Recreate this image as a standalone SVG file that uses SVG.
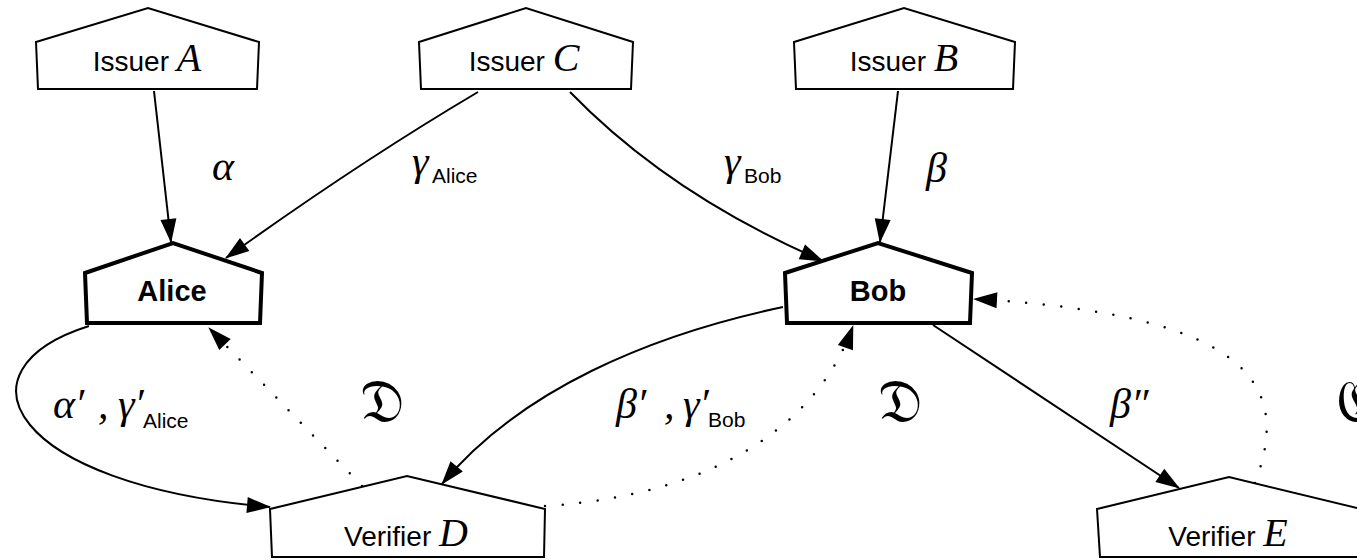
<svg xmlns="http://www.w3.org/2000/svg" width="1357" height="560" viewBox="0 0 1357 560">
  <style>
    .node { fill: #fff; stroke: #000; stroke-width: 2; stroke-linejoin: miter; }
    .party { fill: #fff; stroke: #000; stroke-width: 4; stroke-linejoin: miter; }
    .lbl { font-family: "Liberation Sans", Arial, sans-serif; font-size: 28px; fill: #000; }
    .bold { font-weight: bold; font-size: 29px; }
    .m { font-family: "Liberation Serif", "DejaVu Serif", serif; font-style: italic; font-size: 40px; fill: #000; }
    .g { font-size: 42px; }
    .sub { font-family: "Liberation Sans", Arial, sans-serif; font-style: normal; font-size: 21px; fill: #000; }
    .frak { font-family: "DejaVu Serif", "DejaVu Sans", serif; font-size: 60px; fill: #000; }
    .edge { fill: none; stroke: #000; stroke-width: 2; marker-end: url(#tip); }
    .dot { fill: none; stroke: #000; stroke-width: 2.5; stroke-linecap: round; stroke-dasharray: 0 17.6; marker-end: url(#tip); }
  </style>
  <defs>
    <marker id="tip" markerUnits="userSpaceOnUse" markerWidth="24" markerHeight="16" refX="23" refY="8" orient="auto" overflow="visible">
      <path d="M0,0 L24,8 L0,16 Z" fill="#000"/>
    </marker>
  </defs>
  <rect width="1357" height="560" fill="#fff"/>

  <!-- connectors -->
  <g id="connectors">
    <path class="edge" d="M154 91 L171 242"/>
    <path class="edge" d="M478 92 Q358 163 226 258"/>
    <path class="edge" d="M570 92 Q670 195 823 261"/>
    <path class="edge" d="M898 91 L880 242"/>
    <path class="edge" d="M89 326 C-50 370 10 485 270 507"/>
    <path class="dot" d="M362 486 L209 328"/>
    <path class="edge" d="M783 307 C650 335 520 390 442 484"/>
    <path class="dot" d="M545 506 C720 495 820 420 853 326"/>
    <path class="edge" d="M933 325 L1179 488"/>
    <path class="dot" d="M1255 483 C1290 390 1260 315 974 299"/>
  </g>

  <!-- edge labels -->
  <g id="edge-labels">
    <text class="m g" x="212" y="180">α</text>
    <text class="m g" x="412" y="175">γ</text><text class="sub" x="432" y="183">Alice</text>
    <text class="m g" x="724" y="175">γ</text><text class="sub" x="744" y="183">Bob</text>
    <text class="m g" x="926" y="182">β</text>
    <text class="m g" x="53" y="418">α′</text><text class="m g" x="98" y="418">,</text>
    <text class="m g" x="118" y="418">γ′</text><text class="sub" x="143" y="428">Alice</text>
    <text class="m g" x="616" y="418">β′</text><text class="m g" x="664" y="418">,</text>
    <text class="m g" x="683" y="418">γ′</text><text class="sub" x="708" y="427">Bob</text>
    <text class="m g" x="1110" y="418">β″</text>
    <text class="frak" x="360" y="422">𝔇</text>
    <text class="frak" x="878" y="422">𝔇</text>
    <text class="frak" x="1336" y="422">𝔈</text>
  </g>

  <!-- nodes -->
  <g id="issuer-a">
    <path class="node" d="M36 42 L148 8 L259 42 L257 89 L38 89 Z"/>
    <text class="lbl" x="147" y="71" text-anchor="middle">Issuer <tspan class="m">A</tspan></text>
  </g>
  <g id="issuer-c">
    <path class="node" d="M419 42 L526 8 L633 42 L631 89 L421 89 Z"/>
    <text class="lbl" x="524" y="71" text-anchor="middle">Issuer <tspan class="m">C</tspan></text>
  </g>
  <g id="issuer-b">
    <path class="node" d="M794 42 L904 8 L1015 42 L1013 89 L796 89 Z"/>
    <text class="lbl" x="904" y="71" text-anchor="middle">Issuer <tspan class="m">B</tspan></text>
  </g>
  <g id="alice">
    <path class="party" d="M85 273 L173 243 L262 273 L260 323 L87 323 Z"/>
    <text class="lbl bold" x="172" y="301" text-anchor="middle">Alice</text>
  </g>
  <g id="bob">
    <path class="party" d="M785 273 L878 243 L972 273 L970 323 L787 323 Z"/>
    <text class="lbl bold" x="878" y="301" text-anchor="middle">Bob</text>
  </g>
  <g id="verifier-d">
    <path class="node" d="M270 509 L407 476 L545 509 L544 557 L272 557 Z"/>
    <text class="lbl" x="406" y="546" text-anchor="middle">Verifier <tspan class="m">D</tspan></text>
  </g>
  <g id="verifier-e">
    <path class="node" d="M1097 509 L1229 477 L1361 509 L1359 557 L1100 557 Z"/>
    <text class="lbl" x="1228" y="546" text-anchor="middle">Verifier <tspan class="m">E</tspan></text>
  </g>
</svg>
